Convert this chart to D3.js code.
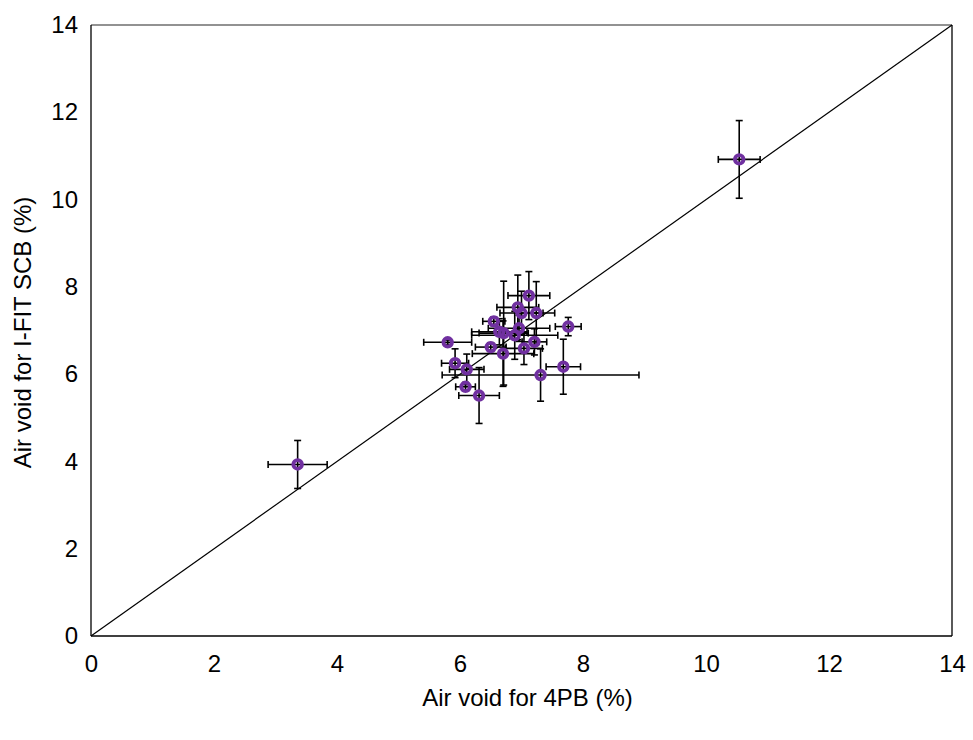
<!DOCTYPE html>
<html><head><meta charset="utf-8">
<script src="https://cdn.jsdelivr.net/npm/d3@7"></script>
<style>body{margin:0;background:#fff}svg{display:block}text{font-family:"Liberation Sans",Arial,sans-serif}</style>
</head><body><svg id="c" width="973" height="740"></svg>
<script>
const xVals  = [3.36,10.54,7.12,7.24,6.94,7.00,6.55,6.64,6.71,6.96,6.89,7.76,5.80,7.21,6.50,7.04,6.70,5.92,6.11,7.68,7.31,6.09,6.31];
const yVals  = [3.93,10.92,7.80,7.40,7.53,7.40,7.21,6.97,6.94,7.05,6.89,7.09,6.73,6.74,6.62,6.59,6.47,6.25,6.11,6.17,5.98,5.71,5.51];
const xErr   = [0.48,0.34,0.34,0.30,0.34,0.35,0.18,0.45,0.40,0.50,0.70,0.21,0.39,0.20,0.25,0.30,0.50,0.22,0.28,0.28,1.60,0.16,0.33];
const yErr   = [0.55,0.89,0.55,0.72,0.74,0.50,0.10,0.30,1.19,0.30,0.55,0.21,0.05,0.30,0.10,0.37,0.75,0.33,0.35,0.63,0.60,0.10,0.64];
const xTicks = [0,2,4,6,8,10,12,14];
const yTicks = [0,2,4,6,8,10,12,14];
const xTitle = "Air void for 4PB (%)";
const yTitle = "Air void for I-FIT SCB (%)";

const FS = 24;
const svg = d3.select("#c");
const L=91,R=952,T=25,B=636;
const x = d3.scaleLinear().domain([0,14]).range([L,R]);
const y = d3.scaleLinear().domain([0,14]).range([B,T]);

svg.append("line").attr("x1",L).attr("x2",R).attr("y1",T).attr("y2",T).attr("stroke","#6e6e6e").attr("stroke-width",1.5);
svg.append("line").attr("x1",R).attr("x2",R).attr("y1",T).attr("y2",B).attr("stroke","#000").attr("stroke-width",1.3);
svg.append("line").attr("x1",L).attr("x2",R).attr("y1",B).attr("y2",B).attr("stroke","#000").attr("stroke-width",1.3);
svg.append("line").attr("x1",L).attr("x2",L).attr("y1",T).attr("y2",B).attr("stroke","#000").attr("stroke-width",1.3);

const xa = svg.append("g").attr("transform",`translate(0,${B})`).call(d3.axisBottom(x).tickValues(xTicks).tickSize(0).tickPadding(19).tickFormat(d3.format("d")));
xa.select(".domain").remove();
xa.selectAll("text").attr("font-size",FS).attr("fill","#000").style("font-family","'Liberation Sans',Arial,sans-serif");
const ya = svg.append("g").attr("transform",`translate(${L},0)`).call(d3.axisLeft(y).tickValues(yTicks).tickSize(0).tickPadding(13).tickFormat(d3.format("d")));
ya.select(".domain").remove();
ya.selectAll("text").attr("font-size",FS).attr("fill","#000").style("font-family","'Liberation Sans',Arial,sans-serif");

svg.append("text").attr("x",(L+R)/2+6).attr("y",706).attr("text-anchor","middle").attr("font-size",FS).text(xTitle);
svg.append("text").attr("transform",`translate(31,${(T+B)/2+2}) rotate(-90)`).attr("text-anchor","middle").attr("font-size",FS).text(yTitle);

svg.append("line").attr("x1",x(0)).attr("y1",y(0)).attr("x2",x(14)).attr("y2",y(14)).attr("stroke","#000").attr("stroke-width",1.2);

const data = xVals.map((v,i)=>({x:v,y:yVals[i],xe:xErr[i],ye:yErr[i]}));
const cap=3.5;
const eg = svg.append("g").attr("stroke","#000").attr("stroke-width",1.6);
data.forEach(d=>{
  const cx=x(d.x), cy=y(d.y);
  const x0=x(d.x-d.xe), x1=x(d.x+d.xe), y0=y(d.y-d.ye), y1=y(d.y+d.ye);
  eg.append("line").attr("x1",x0).attr("x2",x1).attr("y1",cy).attr("y2",cy);
  eg.append("line").attr("x1",x0).attr("x2",x0).attr("y1",cy-cap).attr("y2",cy+cap);
  eg.append("line").attr("x1",x1).attr("x2",x1).attr("y1",cy-cap).attr("y2",cy+cap);
  eg.append("line").attr("x1",cx).attr("x2",cx).attr("y1",y0).attr("y2",y1);
  eg.append("line").attr("x1",cx-cap).attr("x2",cx+cap).attr("y1",y0).attr("y2",y0);
  eg.append("line").attr("x1",cx-cap).attr("x2",cx+cap).attr("y1",y1).attr("y2",y1);
});
svg.append("g").selectAll("circle").data(data).join("circle")
  .attr("cx",d=>x(d.x)).attr("cy",d=>y(d.y)).attr("r",4.3)
  .attr("fill","none").attr("stroke","#7030A0").attr("stroke-width",3.8);
</script></body></html>
